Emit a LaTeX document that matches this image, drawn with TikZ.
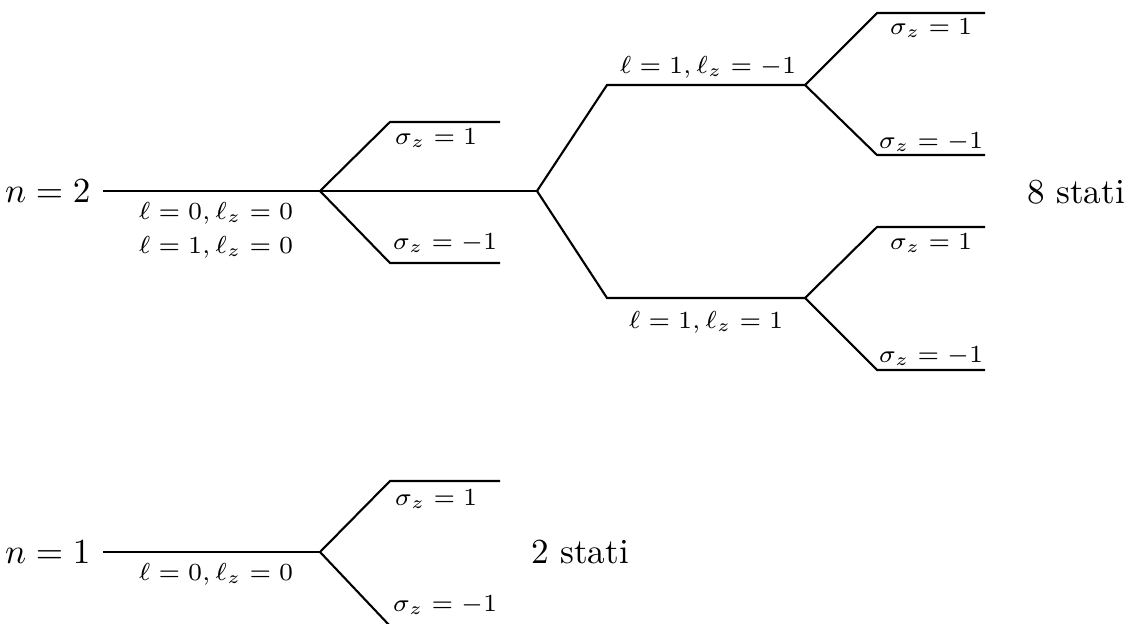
\documentclass[tikz,border=0pt]{standalone}
\usepackage{amsmath}
\usepackage{amssymb}
\usepackage{tikz}
\usetikzlibrary{positioning}

\begin{document}
\begin{tikzpicture}[
  level/.style={draw=black, line width=0.6pt},
  lab/.style={font=\fontsize{7.4}{9}\selectfont, inner sep=1pt},
  big/.style={font=\normalsize}
]
  \useasboundingbox (0,0) rectangle (11.29,6.23);
  \clip (0,0) rectangle (11.29,6.23);

  % n = 2
  \node[big, anchor=east] (n2) at (1.03,4.32) {$n=2$};
  \coordinate (a) at (3.20,4.32);
  \coordinate (au) at (3.90,5.01);
  \coordinate (aue) at (5.00,5.01);
  \coordinate (ad) at (3.90,3.60);
  \coordinate (ade) at (5.00,3.60);
  \coordinate (b) at (5.37,4.32);
  \coordinate (bu) at (6.07,5.38);
  \coordinate (c) at (8.05,5.38);
  \coordinate (bd) at (6.07,3.25);
  \coordinate (d) at (8.05,3.25);
  \coordinate (cu) at (8.77,6.10);
  \coordinate (cue) at (9.85,6.10);
  \coordinate (cd) at (8.77,4.68);
  \coordinate (cde) at (9.85,4.68);
  \coordinate (du) at (8.77,3.96);
  \coordinate (due) at (9.85,3.96);
  \coordinate (dd) at (8.77,2.53);
  \coordinate (dde) at (9.85,2.53);

  \draw[level] (n2.east) -- (a) -- (b);
  \draw[level] (a) -- (au) -- (aue);
  \draw[level] (a) -- (ad) -- (ade);
  \draw[level] (b) -- (bu) -- (c);
  \draw[level] (b) -- (bd) -- (d);
  \draw[level] (c) -- (cu) -- (cue);
  \draw[level] (c) -- (cd) -- (cde);
  \draw[level] (d) -- (du) -- (due);
  \draw[level] (d) -- (dd) -- (dde);

  \node[lab] (l00) at (2.16,4.10) {$\ell=0,\ell_z=0$};
  \node[lab] (l10) at (2.16,3.76) {$\ell=1,\ell_z=0$};
  \node[lab] (as1) at (4.36,4.85) {$\sigma_z=1$};
  \node[lab] (asm) at (4.45,3.80) {$\sigma_z=-1$};
  \node[lab] (l1m) at (7.08,5.56) {$\ell=1,\ell_z=-1$};
  \node[lab] (l11) at (7.06,3.01) {$\ell=1,\ell_z=1$};
  \node[lab] (cs1) at (9.31,5.95) {$\sigma_z=1$};
  \node[lab] (csm) at (9.31,4.81) {$\sigma_z=-1$};
  \node[lab] (ds1) at (9.31,3.80) {$\sigma_z=1$};
  \node[lab] (dsm) at (9.31,2.67) {$\sigma_z=-1$};
  \node[big] (st8) at (10.76,4.31) {$8$ stati};

  % n = 1
  \node[big, anchor=east] (n1) at (1.03,0.71) {$n=1$};
  \coordinate (e) at (3.20,0.71);
  \coordinate (eu) at (3.90,1.42);
  \coordinate (eue) at (5.00,1.42);
  \coordinate (ed) at (3.90,-0.03);
  \coordinate (ede) at (5.00,-0.03);

  \draw[level] (n1.east) -- (e);
  \draw[level] (e) -- (eu) -- (eue);
  \draw[level] (e) -- (ed) -- (ede);

  \node[lab] (e00) at (2.16,0.49) {$\ell=0,\ell_z=0$};
  \node[lab] (es1) at (4.36,1.24) {$\sigma_z=1$};
  \node[lab] (esm) at (4.45,0.18) {$\sigma_z=-1$};
  \node[big] (st2) at (5.80,0.71) {$2$ stati};
\end{tikzpicture}
\end{document}
